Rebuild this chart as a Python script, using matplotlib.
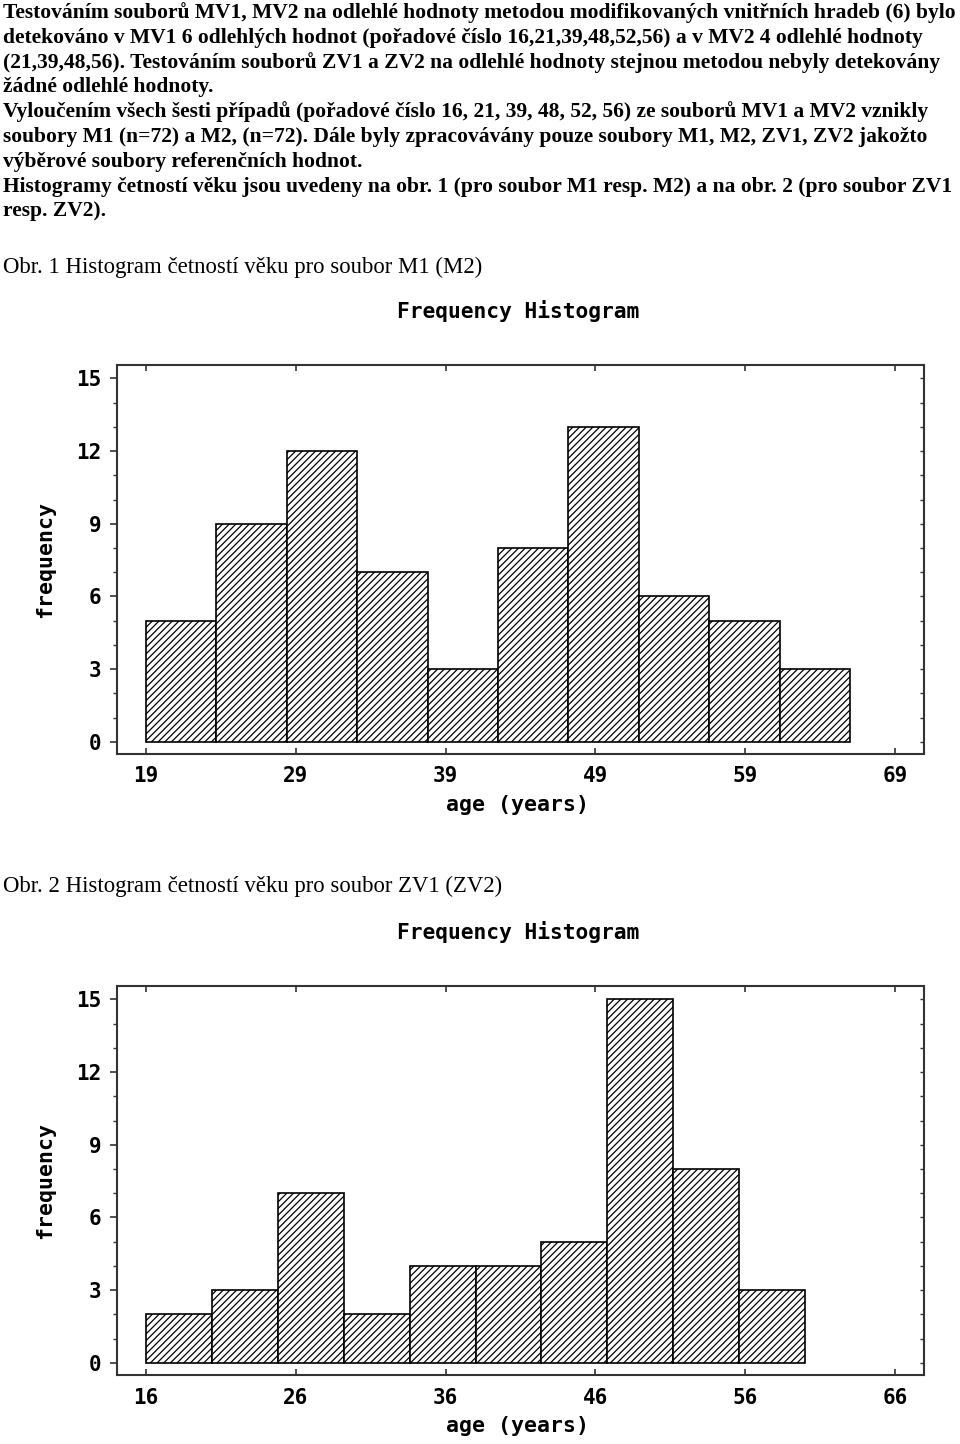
import matplotlib
matplotlib.use("Agg")
import numpy as np
import matplotlib.pyplot as plt

# text of the page
para_lines = [
    "Testováním souborů MV1, MV2 na odlehlé hodnoty metodou modifikovaných vnitřních hradeb (6) bylo",
    "detekováno v MV1 6 odlehlých hodnot (pořadové číslo 16,21,39,48,52,56) a v MV2 4 odlehlé hodnoty",
    "(21,39,48,56). Testováním souborů ZV1 a ZV2 na odlehlé hodnoty stejnou metodou nebyly detekovány",
    "žádné odlehlé hodnoty.",
    "Vyloučením všech šesti případů (pořadové číslo 16, 21, 39, 48, 52, 56) ze souborů MV1 a MV2 vznikly",
    "soubory M1 (n=72) a M2, (n=72). Dále byly zpracovávány pouze soubory M1, M2, ZV1, ZV2 jakožto",
    "výběrové soubory referenčních hodnot.",
    "Histogramy četností věku jsou uvedeny na obr. 1 (pro soubor M1 resp. M2) a na obr. 2 (pro soubor ZV1",
    "resp. ZV2).",
]
caption1 = "Obr. 1 Histogram četností věku pro soubor M1 (M2)"
caption2 = "Obr. 2 Histogram četností věku pro soubor ZV1 (ZV2)"

chart_title = "Frequency Histogram"
x_label = "age (years)"
y_label = "frequency"

# Obr. 1 - soubor M1 (M2)
m1_edges = [19.0, 23.7, 28.4, 33.1, 37.8, 42.5, 47.2, 51.9, 56.6, 61.3, 66.0]
m1_counts = [5, 9, 12, 7, 3, 8, 13, 6, 5, 3]
m1_xticks = [19, 29, 39, 49, 59, 69]

# Obr. 2 - soubor ZV1 (ZV2)
zv1_edges = [16.0, 20.4, 24.8, 29.2, 33.6, 38.0, 42.4, 46.8, 51.2, 55.6, 60.0]
zv1_counts = [2, 3, 7, 2, 4, 4, 5, 15, 8, 3]
zv1_xticks = [16, 26, 36, 46, 56, 66]

y_ticks = [0, 3, 6, 9, 12, 15]

W, H = 960, 1444
plt.rcParams["hatch.linewidth"] = 0.9
MONO = "DejaVu Sans Mono"
SERIF = "Liberation Serif"

fig = plt.figure(figsize=(W / 100, H / 100), dpi=100)


def fy(y):
    return 1 - y / H


line_y = [13, 38, 63, 87, 112, 137, 162, 187, 211]
for y, s in zip(line_y, para_lines):
    fig.text(3 / W, fy(y), s, family=SERIF, weight="bold", fontsize=15.5, va="center", ha="left")
fig.text(3 / W, fy(267), caption1, family=SERIF, fontsize=16.4, va="center", ha="left")
fig.text(3 / W, fy(886), caption2, family=SERIF, fontsize=16.4, va="center", ha="left")


def histogram(top_px, edges, counts, xticks):
    bottom_px = top_px + 389
    ax = fig.add_axes([117 / W, fy(bottom_px), 807 / W, 389 / H])
    ax.bar(edges[:-1], counts, width=np.diff(edges), align="edge", facecolor="white",
           edgecolor="black", hatch="/////", linewidth=1.2)
    ax.set_xlim(xticks[0] - 1.94, xticks[-1] + 1.94)
    ax.set_ylim(-0.5, 15.55)
    ax.set_xticks(xticks)
    ax.set_yticks(y_ticks)
    ax.set_yticks(range(0, 16), minor=True)
    for sp in ax.spines.values():
        sp.set_color("#333333")
        sp.set_linewidth(1.5)
    ax.tick_params(axis="x", direction="in", top=True, length=4, width=1.2, pad=9,
                   labelsize=15, color="#333333")
    ax.tick_params(axis="y", which="major", direction="out", length=5, width=1.2, pad=6,
                   labelsize=15, color="#333333")
    ax.tick_params(axis="y", which="minor", direction="out", length=3, width=1.0, color="#333333")
    right = ax.secondary_yaxis("right")
    right.set_yticks(range(0, 16))
    right.tick_params(direction="in", length=3, width=1.0, labelright=False, color="#333333")
    right.spines["right"].set_visible(False)
    for lab in ax.get_xticklabels() + ax.get_yticklabels():
        lab.set_family(MONO)
        lab.set_weight("bold")
    fig.text(518 / W, fy(top_px - 54), chart_title, family=MONO, weight="bold",
             fontsize=15.3, ha="center", va="center")
    fig.text(518 / W, fy(bottom_px + 51), x_label, family=MONO, weight="bold",
             fontsize=15.5, ha="center", va="center")
    fig.text(45 / W, fy((top_px + bottom_px) / 2), y_label, family=MONO, weight="bold",
             fontsize=15.5, ha="center", va="center", rotation=90)
    return ax


histogram(365, m1_edges, m1_counts, m1_xticks)
histogram(986, zv1_edges, zv1_counts, zv1_xticks)

fig.savefig("out.png", dpi=100)
